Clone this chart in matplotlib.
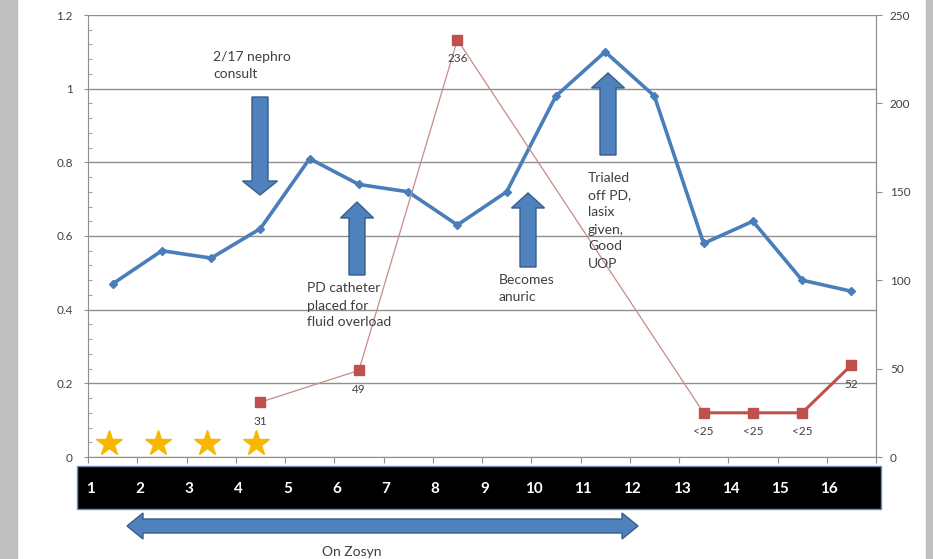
import numpy as np
import matplotlib.pyplot as plt
from matplotlib.patches import Polygon, Rectangle
from matplotlib.transforms import blended_transform_factory

# data
days = list(range(1, 17))
creatinine = [0.47, 0.56, 0.54, 0.62, 0.81, 0.74, 0.72, 0.63,
              0.72, 0.98, 1.10, 0.98, 0.58, 0.64, 0.48, 0.45]
urine_days = [4, 6, 8, 13, 14, 15, 16]
urine_vals = [31, 49, 236, 25, 25, 25, 52]
urine_labels = ['31', '49', '236', '<25', '<25', '<25', '52']
star_days = [1, 2, 3, 4]
bar_labels = [str(d) for d in days]
left_ticks = [0, 0.2, 0.4, 0.6, 0.8, 1.0, 1.2]
left_ticklabels = ['0', '0.2', '0.4', '0.6', '0.8', '1', '1.2']
right_ticks = [0, 50, 100, 150, 200, 250]

plt.rcParams['font.family'] = ['Lato', 'DejaVu Sans']

W, H = 933, 559
fig = plt.figure(figsize=(W / 100, H / 100), dpi=100)
fig.patch.set_facecolor('white')


def px(x, y):
    # pixel position (y from top) -> figure fraction
    return x / W, 1 - y / H


def block_arrow(x0, y0, x1, y1, shaft, head_w, head_len, both=False):
    p0 = np.array([x0, y0], float)
    p1 = np.array([x1, y1], float)
    d = p1 - p0
    u = d / np.hypot(*d)
    n = np.array([-u[1], u[0]])
    s, h = shaft / 2, head_w / 2
    pts = []
    if both:
        a = p0 + u * head_len
        pts += [p0, a + n * h, a + n * s]
    else:
        pts += [p0 + n * s]
    b = p1 - u * head_len
    pts += [b + n * s, b + n * h, p1, b - n * h, b - n * s]
    if both:
        pts += [a - n * s, a - n * h]
    else:
        pts += [p0 - n * s]
    pts = np.array(pts)
    pts[:, 0] /= W
    pts[:, 1] = 1 - pts[:, 1] / H
    fig.add_artist(Polygon(pts, closed=True, transform=fig.transFigure,
                           fc='#4f81bd', ec='#385d8a', lw=1, zorder=5))


# gray page edges
fig.add_artist(Rectangle((0, 0), 17 / W, 1, transform=fig.transFigure,
                         color='#bfbfbf', zorder=0))
fig.add_artist(Rectangle((926 / W, 0), 1, 1, transform=fig.transFigure,
                         color='#bfbfbf', zorder=0))

ax = fig.add_axes([88 / W, 1 - 457 / H, 788 / W, 442 / H])
ax.set_xlim(0.5, 16.5)
ax.set_ylim(0, 1.2)
ax.set_yticks(left_ticks)
ax.set_yticklabels(left_ticklabels)
ax.set_yticks(np.arange(0, 1.2, 0.04), minor=True)
ax.set_xticks(np.arange(0.5, 16.6, 1))
ax.set_xticklabels([])
ax.yaxis.grid(True, color='#8f8f8f', lw=1)
ax.set_axisbelow(True)
ax.tick_params(axis='y', which='major', length=3, color='#8f8f8f',
               labelsize=8.5, labelcolor='#404040', pad=8)
ax.tick_params(axis='y', which='minor', direction='in', length=3, color='#8f8f8f')
ax.tick_params(axis='x', length=4, color='#8f8f8f')
for side in ['left', 'bottom', 'right']:
    ax.spines[side].set_color('#8f8f8f')
ax.spines['top'].set_visible(False)

# creatinine line
ax.plot(days, creatinine, color='#4a7ebb', lw=2.6, marker='D', ms=4,
        zorder=4, clip_on=False)

# stars
ax.plot(np.array(star_days) - 0.08, [0.038] * len(star_days), ls='none',
        marker='*', ms=19, color='#f7b600', zorder=4)

ax2 = ax.twinx()
ax2.set_ylim(0, 250)
ax2.set_yticks(right_ticks)
ax2.tick_params(axis='y', length=4, color='#8f8f8f', labelsize=8.5,
                labelcolor='#404040', pad=6)
for side in ['left', 'bottom', 'top']:
    ax2.spines[side].set_visible(False)
ax2.spines['right'].set_color('#8f8f8f')

# urine output: thin line across gaps, thick where days are consecutive
ax2.plot(urine_days, urine_vals, color='#c98a88', lw=0.9, zorder=3)
full = [np.nan] * len(days)
for d, v in zip(urine_days, urine_vals):
    full[d - 1] = v
ax2.plot(days, full, color='#c0504d', lw=2.2, zorder=3)
ax2.plot(urine_days, urine_vals, ls='none', marker='s', ms=7,
         color='#c0504d', zorder=4, clip_on=False)
for d, v, lab in zip(urine_days, urine_vals, urine_labels):
    ax2.annotate(lab, (d, v), xytext=(0, -19), textcoords='offset pixels',
                 ha='center', va='center', fontsize=8.5, color='#404040')

# black day bar below the axis
bar = Rectangle((77 / W, 1 - 509 / H), 804 / W, 43 / H, transform=fig.transFigure,
                fc='black', ec='#6f8fb5', lw=1, zorder=5)
fig.add_artist(bar)
trans = blended_transform_factory(ax.transData, fig.transFigure)
for d, lab in zip(days, bar_labels):
    fig.text(d - 0.45, 1 - 489 / H, lab, transform=trans, ha='center',
             va='center', color='white', fontsize=11, fontweight='bold',
             zorder=6)

# block arrows
block_arrow(260, 97, 260, 195, 16, 35, 14)
block_arrow(357, 275, 357, 202, 16, 33, 16)
block_arrow(528, 267, 528, 193, 16, 33, 15)
block_arrow(608, 155, 608, 73, 16, 33, 15)
block_arrow(127, 526, 638, 526, 14, 26, 16, both=True)

# annotations
tcol = '#3f3f3f'
kw = dict(fontsize=10, color=tcol, ha='left', va='center', linespacing=1.5,
          zorder=6)
fig.text(*px(213, 65.5), '2/17 nephro\nconsult', **kw)
fig.text(*px(307, 305.5), 'PD catheter\nplaced for\nfluid overload', **kw)
fig.text(*px(499, 288.5), 'Becomes\nanuric', **kw)
fig.text(*px(588, 221), 'Trialed\noff PD,\nlasix\ngiven,\nGood\nUOP', **kw)
fig.text(*px(352, 552), 'On Zosyn', fontsize=10, color=tcol,
         ha='center', va='center', zorder=6)

fig.savefig('out.png', dpi=100)
